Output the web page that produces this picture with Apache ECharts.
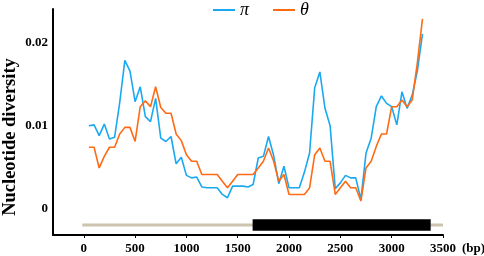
<!DOCTYPE html>
<html>
<head>
<meta charset="utf-8">
<script src="https://cdn.jsdelivr.net/npm/echarts@6/dist/echarts.min.js"></script>
<style>
  html, body { margin: 0; padding: 0; background: #fff; }
  #chart { width: 484px; height: 256px; }
</style>
</head>
<body>
<div id="chart"></div>
<script>
// window midpoints (bp)
const positions = [
  50, 100, 150, 200, 250, 300, 350, 400, 450, 500,
  550, 600, 650, 700, 750, 800, 850, 900, 950, 1000,
  1050, 1100, 1150, 1200, 1250, 1300, 1350, 1400, 1450, 1500,
  1550, 1600, 1650, 1700, 1750, 1800, 1850, 1900, 1950, 2000,
  2050, 2100, 2150, 2200, 2250, 2300, 2350, 2400, 2450, 2500,
  2550, 2600, 2650, 2700, 2750, 2800, 2850, 2900, 2950, 3000,
  3050, 3100, 3150, 3200, 3250, 3300
]
// π
const piValues = [
  0.0100, 0.0101, 0.0088, 0.0102, 0.0084, 0.0086, 0.0128, 0.0179, 0.0166, 0.0129,
  0.0147, 0.0111, 0.0105, 0.0133, 0.0085, 0.0081, 0.0087, 0.0054, 0.0062, 0.0040,
  0.0037, 0.0038, 0.0026, 0.0025, 0.0025, 0.0025, 0.0017, 0.0013, 0.0027, 0.0027,
  0.0027, 0.0026, 0.0029, 0.0061, 0.0063, 0.0087, 0.0064, 0.0030, 0.0051, 0.0025,
  0.0025, 0.0025, 0.0044, 0.0067, 0.0146, 0.0165, 0.0121, 0.0100, 0.0024, 0.0031,
  0.0040, 0.0037, 0.0037, 0.0011, 0.0067, 0.0085, 0.0123, 0.0136, 0.0127, 0.0123,
  0.0101, 0.0141, 0.0121, 0.0137, 0.0166, 0.0211
]
// θ
const thetaValues = [
  0.0074, 0.0074, 0.0049, 0.0063, 0.0074, 0.0074, 0.0090, 0.0098, 0.0098, 0.0081,
  0.0123, 0.0130, 0.0123, 0.0147, 0.0122, 0.0115, 0.0115, 0.0090, 0.0082, 0.0065,
  0.0057, 0.0057, 0.0041, 0.0041, 0.0041, 0.0041, 0.0033, 0.0025, 0.0033, 0.0041,
  0.0041, 0.0041, 0.0041, 0.0049, 0.0057, 0.0073, 0.0057, 0.0033, 0.0041, 0.0017,
  0.0017, 0.0017, 0.0017, 0.0025, 0.0065, 0.0073, 0.0057, 0.0057, 0.0017, 0.0025,
  0.0033, 0.0025, 0.0025, 0.0009, 0.0049, 0.0057, 0.0075, 0.0090, 0.0090, 0.0123,
  0.0123, 0.0131, 0.0123, 0.0131, 0.0176, 0.0229
]
// gene structure bars (bp) drawn under the curves
const fullRegion = [-15, 3500]
const codingRegion = [1645, 3380]
const regionLevel = -0.002

const xTicks = [0, 500, 1000, 1500, 2000, 2500, 3000, 3500]
const yTicks = [0, 0.01, 0.02]

const serif = 'Liberation Serif'

const chart = echarts.init(document.getElementById('chart'))

const option = {
  animation: false,
  legend: {
    data: ['π', 'θ'],
    left: 213,
    top: 1,
    padding: 0,
    icon: 'rect',
    itemWidth: 22,
    itemHeight: 2,
    itemGap: 24,
    textStyle: { fontFamily: serif, fontStyle: 'italic', fontSize: 18, color: '#000' }
  },
  grid: {
    left: 53,
    right: 41,
    top: 9,
    bottom: 21,
    outerBoundsMode: 'none'
  },
  xAxis: {
    type: 'value',
    min: -300,
    max: 3500,
    name: '(bp)',
    nameLocation: 'end',
    nameGap: 13,
    nameTextStyle: {
      fontFamily: serif, fontWeight: 'bold', fontSize: 13, color: '#000',
      verticalAlign: 'top', padding: [7, 0, 0, 0]
    },
    axisLine: { onZero: false, lineStyle: { color: '#000', width: 2 } },
    axisTick: { show: true, length: 3, customValues: xTicks, lineStyle: { color: '#000' } },
    axisLabel: {
      customValues: xTicks,
      margin: 7,
      formatter: v => String(v),
      fontFamily: serif, fontWeight: 'bold', fontSize: 13, color: '#000'
    },
    splitLine: { show: false }
  },
  yAxis: {
    type: 'value',
    min: -0.0032,
    max: 0.0241,
    name: 'Nucleotide diversity',
    nameLocation: 'middle',
    nameGap: 33,
    nameMoveOverlap: false,
    nameTextStyle: { fontFamily: serif, fontWeight: 'bold', fontSize: 18.5, color: '#000', padding: [0, 30, 0, 0] },
    axisLine: { show: true, onZero: false, lineStyle: { color: '#000', width: 2 } },
    axisTick: { show: false },
    axisLabel: {
      customValues: yTicks,
      margin: 5,
      formatter: v => (v === 0 ? '0' : v.toFixed(2)),
      fontFamily: serif, fontWeight: 'bold', fontSize: 13, color: '#000'
    },
    splitLine: { show: false }
  },
  series: [
    {
      name: 'region',
      type: 'line',
      data: fullRegion.map(x => [x, regionLevel]),
      symbol: 'none',
      silent: true,
      lineStyle: { color: '#CCC4AE', width: 3 },
      z: 1
    },
    {
      name: 'coding',
      type: 'line',
      data: codingRegion.map(x => [x, regionLevel]),
      symbol: 'none',
      silent: true,
      lineStyle: { color: '#000', width: 11.5 },
      z: 2
    },
    {
      name: 'π',
      type: 'line',
      data: positions.map((x, i) => [x, piValues[i]]),
      symbol: 'none',
      itemStyle: { color: '#1AA9F0' },
      lineStyle: { color: '#1AA9F0', width: 1.6 },
      z: 3
    },
    {
      name: 'θ',
      type: 'line',
      data: positions.map((x, i) => [x, thetaValues[i]]),
      symbol: 'none',
      itemStyle: { color: '#FF6A14' },
      lineStyle: { color: '#FF6A14', width: 1.6 },
      z: 4
    }
  ]
}

chart.setOption(option)
</script>
</body>
</html>
